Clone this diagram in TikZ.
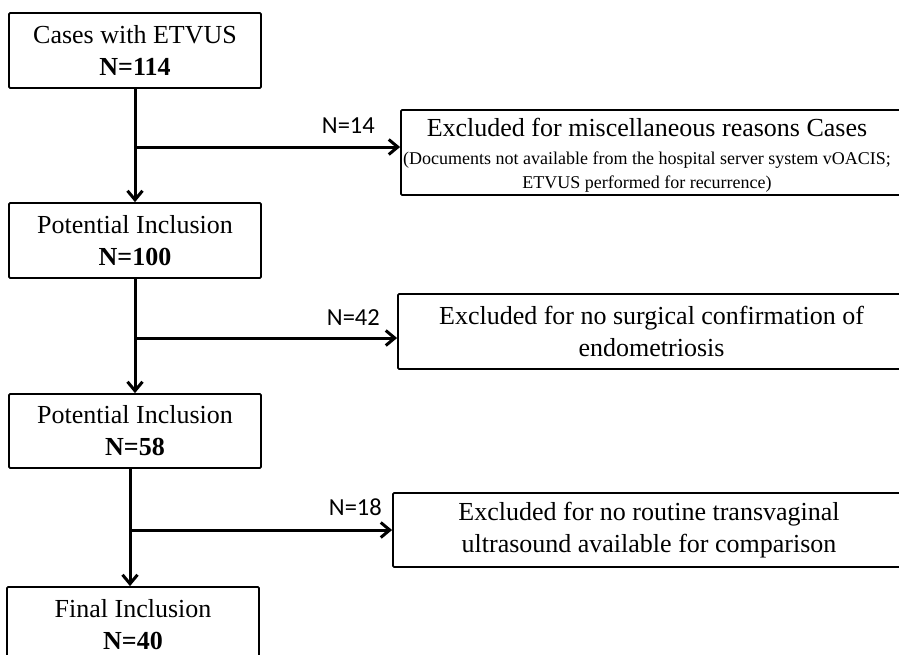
\documentclass[tikz,border=0pt]{standalone}
\usepackage{fontspec}
\setmainfont{Liberation Serif}
\newfontfamily\labfont{Carlito}
\usetikzlibrary{arrows.meta}
\tikzset{
  box/.style={draw=black, line width=1.8pt, rounded corners=1.2pt, inner sep=0pt, align=center,
    font=\fontsize{26}{32}\selectfont},
  boxtext/.style={inner sep=0pt, align=center, font=\fontsize{26}{32}\selectfont},
  flow/.style={line width=3pt, -{Straight Barb[length=9pt,width=15pt]}},
  nlab/.style={anchor=base east, inner sep=0pt, font=\labfont\fontsize{24.5}{28}\selectfont},
}
\begin{document}
\begin{tikzpicture}[x=1pt,y=-1pt]
\useasboundingbox (0,0) rectangle (899,654);
\clip (0,0) rectangle (899,654);
% left column
\node[box, minimum width=252pt, minimum height=75pt] (b1) at (135,50.5) {Cases with ETVUS\\\textbf{N=114}};
\node[box, minimum width=252pt, minimum height=75pt] (b2) at (135,240.5) {Potential Inclusion\\\textbf{N=100}};
\node[box, minimum width=252pt, minimum height=74pt] (b4) at (135,431) {Potential Inclusion\\\textbf{N=58}};
\node[box, minimum width=252pt, minimum height=75pt] (b7) at (133,624.5) {Final Inclusion\\\textbf{N=40}};
% right column
\node[box, minimum width=504pt, minimum height=85pt] (b3) at (653,152.5) {};
\node[boxtext] (b3t) at (647,155.5)
  {Excluded for miscellaneous reasons Cases\\[-4pt]
   {\fontsize{18}{22}\selectfont (Documents not available from the hospital server system vOACIS;}\\[-8pt]
   {\fontsize{18}{22}\selectfont ETVUS performed for recurrence)}};
\node[box, minimum width=507pt, minimum height=75pt] (b5) at (651.5,331.5)
  {Excluded for no surgical confirmation of\\endometriosis};
\node[box, minimum width=512pt, minimum height=74pt] (b6) at (649,530)
  {Excluded for no routine transvaginal\\ultrasound available for comparison};
% branch points
\coordinate (j1) at (135,147);
\coordinate (j2) at (135,338);
\coordinate (j3) at (130,530);
% connectors
\draw[flow] (b1.south) -- (b2.north);
\draw[flow] (j1) -- (j1 -| b3.west);
\draw[flow] (b2.south) -- (b4.north);
\draw[flow] (j2) -- (j2 -| b5.west);
\draw[flow] (b4.south -| j3) -- (b7.north -| j3);
\draw[flow] (j3) -- (j3 -| b6.west);
% labels
\node[nlab] (l1) at (375,133) {N=14};
\node[nlab] (l2) at (380,325) {N=42};
\node[nlab] (l3) at (382,515) {N=18};
\end{tikzpicture}
\end{document}
